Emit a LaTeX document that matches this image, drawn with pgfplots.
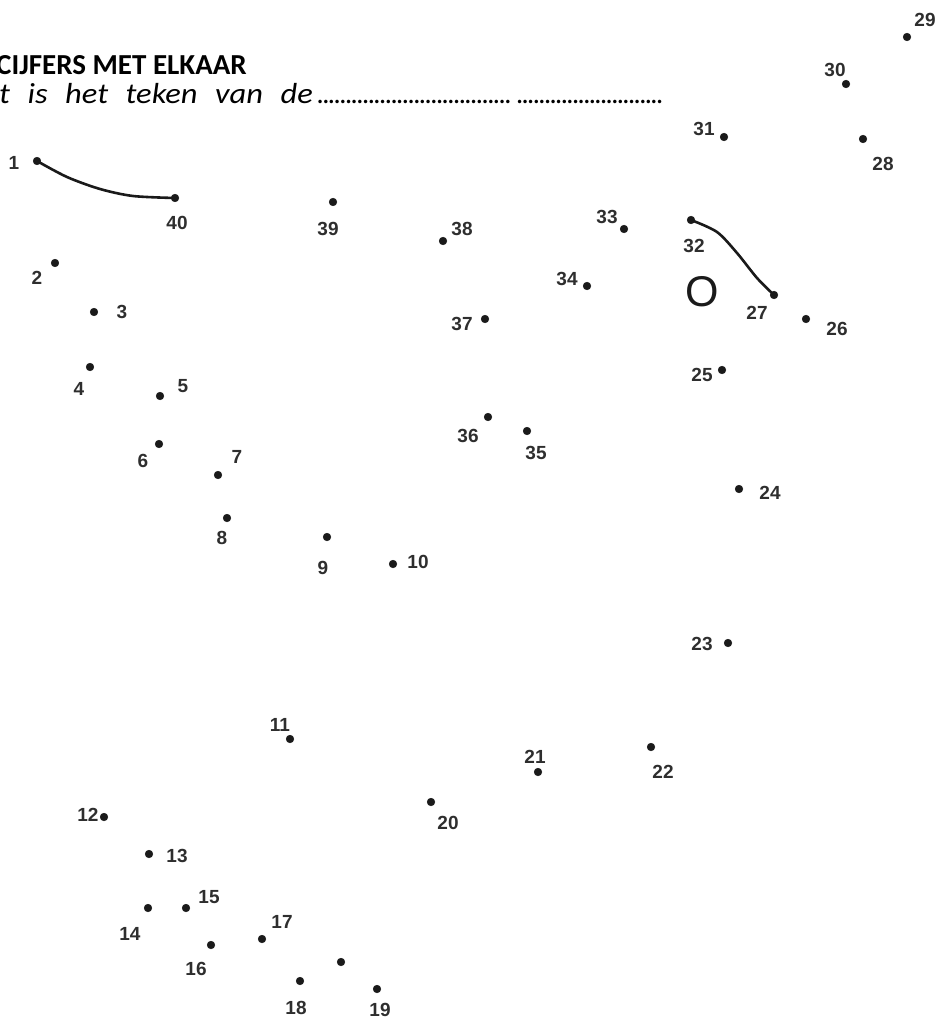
\documentclass[border=0pt]{standalone}
\usepackage{fontspec}
\setmainfont{Carlito}
\newfontfamily\numfont{Liberation Sans}
\usepackage{graphicx}
\usepackage{pgfplots}
\pgfplotsset{compat=1.18}
\definecolor{dotblack}{HTML}{1A1A1A}
\definecolor{numgray}{HTML}{2E2E2E}

% dot positions in picture pixels (y measured downward)
\pgfplotstableread{
x y
37 161
55 263
94 312
90 367
160 396
159 444
218 475
227 518
327 537
393 564
290 739
104 817
149 854
148 908
186 908
211 945
262 939
341 962
300 981
377 989
431 802
538 772
651 747
728 643
739 489
722 370
806 319
774 295
863 139
907 37
846 84
724 137
691 220
624 229
587 286
527 431
488 417
485 319
443 241
333 202
175 198
}\dots

\pgfplotstableread{
x y t
14 163 1
37 278 2
122 312 3
79 389 4
183 386 5
143 461 6
237 457 7
222 538 8
323 568 9
418 562 10
280 725 11
88 815 12
177 856 13
130 934 14
209 897 15
196 969 16
282 922 17
296 1008 18
380 1010 19
448 823 20
535 757 21
663 772 22
702 644 23
770 493 24
702 375 25
837 329 26
757 313 27
883 164 28
925 20 29
835 70 30
704 129 31
694 246 32
607 217 33
567 279 34
536 453 35
468 436 36
462 324 37
462 229 38
328 229 39
177 223 40
}\labels

\newcommand\dotrow[1]{\makebox[#1]{\xleaders\hbox to 5.6bp{\hss.\hss}\hfill}}

\begin{document}
\begin{tikzpicture}
\begin{axis}[
    name=ax,
    width=941bp, height=1023bp,
    scale only axis,
    xmin=0, xmax=941, ymin=0, ymax=1023,
    y dir=reverse,
    hide axis,
    clip=false,
]

% hint lines already drawn in the sheet
\addplot[dotblack, line width=2.6bp, smooth] coordinates {
    (37,161) (67,177) (100,189) (133,196) (175,198)
};
\addplot[dotblack, line width=2.6bp, smooth] coordinates {
    (691,220) (717,232) (737,253) (757,278) (774,295)
};

\addplot[only marks, mark=*, mark size=3.9pt, color=dotblack] table[x=x, y=y] {\dots};

\addplot[only marks, mark=none, nodes near coords, point meta=explicit symbolic,
    every node near coord/.append style={anchor=center, inner sep=0pt,
        font=\numfont\bfseries\fontsize{19bp}{19bp}\selectfont, text=numgray}]
    table[x=x, y=y, meta=t] {\labels};

\node[anchor=center, font=\numfont\fontsize{43bp}{43bp}\selectfont, text=dotblack]
    at (axis cs:702,292) {O};

\node[anchor=base west, inner sep=0pt, font=\bfseries\fontsize{29bp}{29bp}\selectfont]
    at (axis cs:-4,75) {CIJFERS MET ELKAAR};
\node[anchor=base west, inner sep=0pt, font=\itshape\fontsize{29bp}{29bp}\selectfont]
    at (axis cs:-1,104) {\scalebox{1.12}[1]{\makebox[280bp][s]{t is het teken van de}}\hspace{5bp}\dotrow{194bp}\hspace{6bp}\dotrow{146bp}};
\end{axis}
\pgfresetboundingbox
\path[use as bounding box] (ax.south west) rectangle (ax.north east);
\end{tikzpicture}
\end{document}
